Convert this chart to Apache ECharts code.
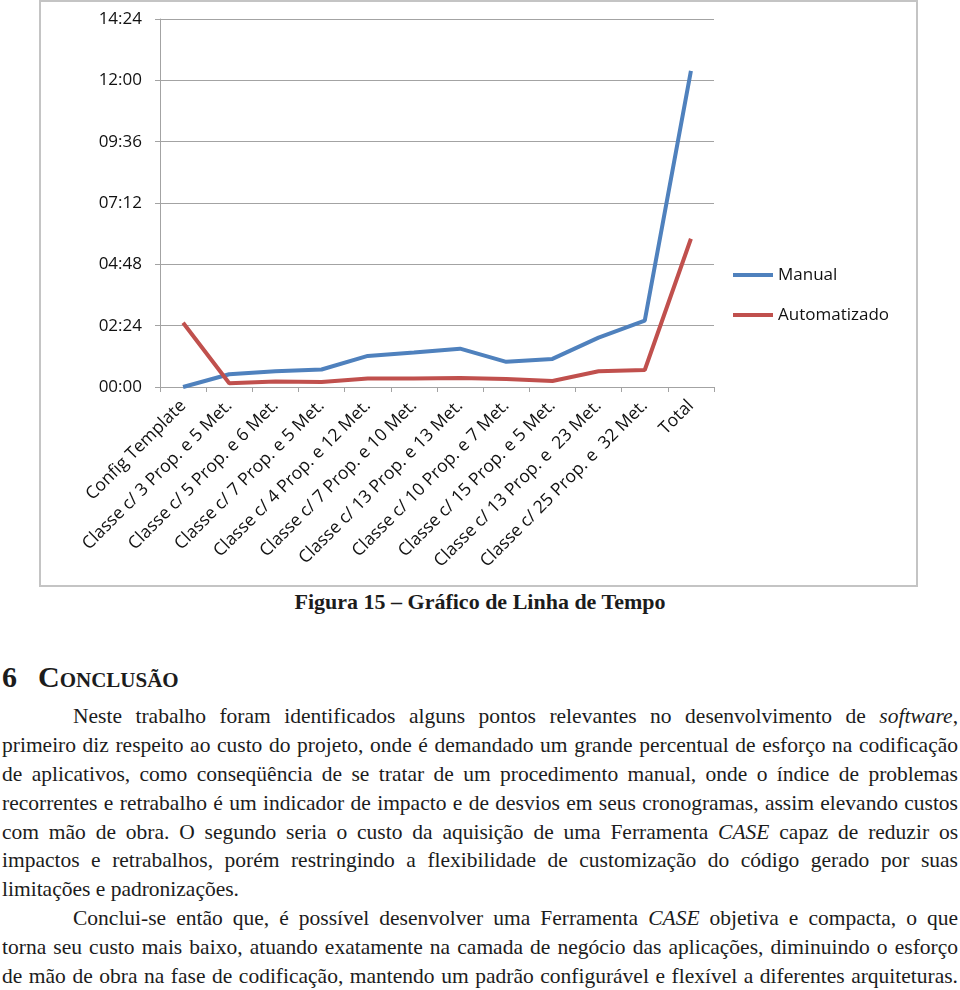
<!DOCTYPE html>
<html>
<head>
<meta charset="utf-8">
<script src="https://cdn.jsdelivr.net/npm/echarts@6/dist/echarts.min.js"></script>
<style>
  body { margin: 0; width: 960px; height: 990px; position: relative; background: #fff; overflow: hidden;
         font-family: "Liberation Serif", "Times New Roman", serif; color: #1c1c1c; }
  .frame { position: absolute; left: 39px; top: 0; width: 879px; height: 587px; border: 2px solid #c4c4c4; box-sizing: border-box; }
  #chart { position: absolute; left: 40px; top: 0; width: 876px; height: 585px; }
  .caption { position: absolute; left: 0; top: 588px; width: 960px; text-align: center; font-weight: bold; font-size: 22px; line-height: 28px; }
  .heading { position: absolute; left: 2px; top: 661px; font-weight: bold; font-size: 30px; font-variant: small-caps; line-height: 32px; }
  .heading span { position: absolute; left: 36px; white-space: nowrap; }
  .para { position: absolute; left: 2px; top: 702px; width: 956px; font-size: 21.5px; line-height: 28.9px; }
  .ln { text-align: justify; text-align-last: justify; height: 28.9px; }
  .ln.ind { padding-left: 71px; }
  .ln.end { text-align: left; text-align-last: left; }
</style>
</head>
<body>
<div class="frame"></div>
<div id="chart"></div>
<div class="caption">Figura 15 – Gráfico de Linha de Tempo</div>
<div class="heading">6<span>Conclusão</span></div>
<div class="para">
  <div class="ln ind">Neste trabalho foram identificados alguns pontos relevantes no desenvolvimento de <i>software</i>,</div>
  <div class="ln">primeiro diz respeito ao custo do projeto, onde é demandado um grande percentual de esforço na codificação</div>
  <div class="ln">de aplicativos, como conseqüência de se tratar de um procedimento manual, onde o índice de problemas</div>
  <div class="ln">recorrentes e retrabalho é um indicador de impacto e de desvios em seus cronogramas, assim elevando custos</div>
  <div class="ln">com mão de obra. O segundo seria o custo da aquisição de uma Ferramenta <i>CASE</i> capaz de reduzir os</div>
  <div class="ln">impactos e retrabalhos, porém restringindo a flexibilidade de customização do código gerado por suas</div>
  <div class="ln end">limitações e padronizações.</div>
  <div class="ln ind">Conclui-se então que, é possível desenvolver uma Ferramenta <i>CASE</i> objetiva e compacta, o que</div>
  <div class="ln">torna seu custo mais baixo, atuando exatamente na camada de negócio das aplicações, diminuindo o esforço</div>
  <div class="ln">de mão de obra na fase de codificação, mantendo um padrão configurável e flexível a diferentes arquiteturas.</div>
</div>
<script>
// categorias do eixo X
const categorias = [
  'Config Template',
  'Classe c/ 3 Prop. e 5 Met.',
  'Classe c/ 5 Prop. e 6 Met.',
  'Classe c/ 7 Prop. e 5 Met.',
  'Classe c/ 4 Prop. e 12 Met.',
  'Classe c/ 7 Prop. e 10 Met.',
  'Classe c/ 13 Prop. e 13 Met.',
  'Classe c/ 10 Prop. e 7 Met.',
  'Classe c/ 15 Prop. e 5 Met.',
  'Classe c/ 13 Prop. e  23 Met.',
  'Classe c/ 25 Prop. e  32 Met.',
  'Total'
]
// tempos em minutos
const manual = [0, 30, 37, 41, 73, 81, 90, 59, 66, 116, 156, 742]
const automatizado = [151, 9, 13, 12, 20, 20, 21, 19, 14, 37, 40, 348]
// eixo Y: 00:00 até 14:24, passo de 02:24
const yMin = 0
const yMax = 864
const yPasso = 144

const hhmm = (v) => {
  const h = Math.floor(v / 60)
  const m = Math.round(v % 60)
  return String(h).padStart(2, '0') + ':' + String(m).padStart(2, '0')
}

const grade = '#a3a3a3'
const fonte = '"Open Sans", "Liberation Sans", sans-serif'

const chart = echarts.init(document.getElementById('chart'))
chart.setOption({
  animation: false,
  grid: { left: 120, top: 19, width: 554, height: 368 },
  legend: {
    orient: 'vertical',
    left: 688,
    top: 260,
    itemWidth: 40,
    itemHeight: 4,
    itemGap: 20,
    icon: 'rect',
    textStyle: { fontFamily: fonte, fontSize: 17, color: '#111', lineHeight: 20 },
    data: ['Manual', 'Automatizado']
  },
  xAxis: {
    type: 'category',
    data: categorias,
    boundaryGap: true,
    axisLine: { lineStyle: { color: grade, width: 1 } },
    axisTick: { show: true, length: 5, lineStyle: { color: grade } },
    axisLabel: { interval: 0, rotate: 45, margin: 16, fontFamily: fonte, fontSize: 17.5, color: '#111' }
  },
  yAxis: {
    type: 'value',
    min: yMin,
    max: yMax,
    interval: yPasso,
    axisLine: { show: true, lineStyle: { color: grade, width: 1 } },
    axisTick: { show: true, length: 5, lineStyle: { color: grade } },
    splitLine: { lineStyle: { color: grade, width: 1 } },
    axisLabel: { margin: 18, fontFamily: fonte, fontSize: 17, color: '#111', formatter: hhmm }
  },
  series: [
    {
      name: 'Manual', type: 'line', data: manual, showSymbol: false,
      lineStyle: { color: '#4F81BD', width: 4 }, itemStyle: { color: '#4F81BD' }
    },
    {
      name: 'Automatizado', type: 'line', data: automatizado, showSymbol: false,
      lineStyle: { color: '#C0504D', width: 4 }, itemStyle: { color: '#C0504D' }
    }
  ]
})
</script>
</body>
</html>
